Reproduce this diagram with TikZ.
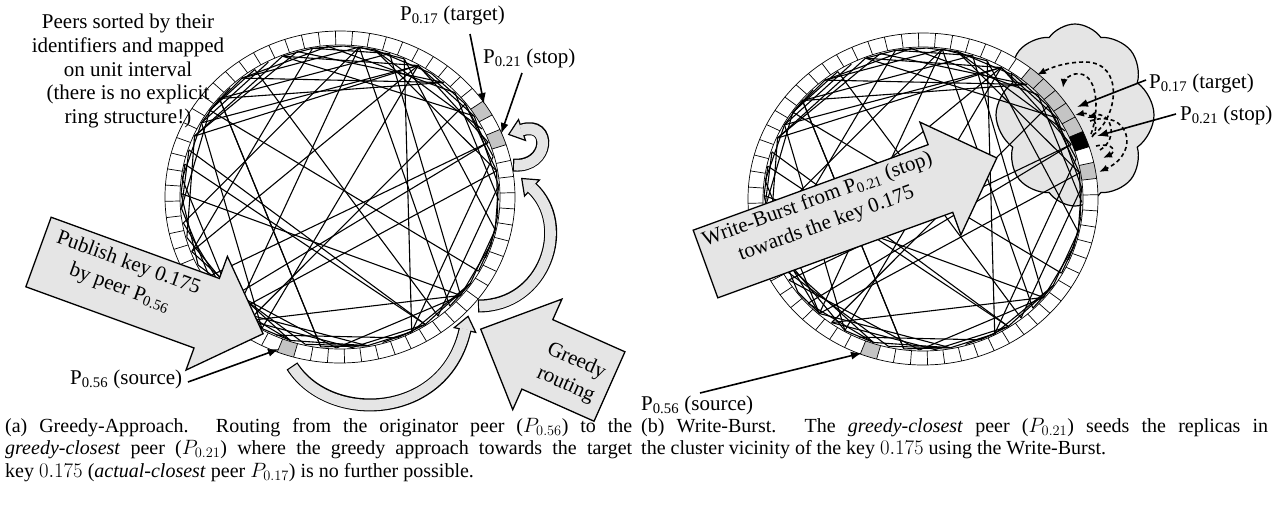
\documentclass[tikz,border=0pt]{standalone}
\usepackage{fontspec}
\setmainfont{Liberation Serif}
\usetikzlibrary{arrows.meta,calc,shapes.symbols}
\definecolor{lgray}{gray}{0.9}
\definecolor{bgray}{gray}{0.77}
\tikzset{
  chord/.style={line width=1.1pt, black},
  ringln/.style={line width=0.7pt, black},
  barrow/.style={fill=lgray, draw=black, line width=1.3pt, line join=miter},
  ptr/.style={line width=1.6pt, -{Latex[length=11pt,width=8pt]}},
  lbl/.style={font=\fontsize{21}{23.7}\selectfont, inner sep=0pt},
  arrtxt/.style={font=\fontsize{21}{26}\selectfont, inner sep=0pt, align=center},
  captxt/.style={font=\fontsize{20}{22.5}\selectfont, inner sep=0pt},
  dasharc/.style={line width=1.6pt, dash pattern=on 4pt off 3pt, -{Latex[length=9pt,width=7pt]}},
}
\newcommand{\boxfill}[2]{%
  \pgfmathsetmacro{\rba}{1.5+5.625*#1}\pgfmathsetmacro{\rbm}{\rba+2.8125}\pgfmathsetmacro{\rbb}{\rba+5.625}%
  \fill[#2] (\rba:175 and 166) -- (\rbm:175 and 166) -- (\rbb:175 and 166) -- (\rbb:160 and 152) -- (\rbm:160 and 152) -- (\rba:160 and 152) -- cycle;}
\newcommand{\chords}{%
  \pgfmathsetseed{11}%
  \foreach \i in {0,...,63}{%
    \pgfmathrandominteger{\dd}{2}{10}%
    \pgfmathsetmacro{\ca}{4.3125+5.625*\i}%
    \pgfmathsetmacro{\cb}{4.3125+5.625*(\i+\dd)}%
    \draw[chord] (\ca:159 and 151) -- (\cb:159 and 151);}%
  \foreach \i in {1,...,30}{%
    \pgfmathrandominteger{\pp}{0}{63}%
    \pgfmathrandominteger{\qq}{12}{52}%
    \pgfmathsetmacro{\ca}{4.3125+5.625*\pp}%
    \pgfmathsetmacro{\cb}{4.3125+5.625*(\pp+\qq)}%
    \draw[chord] (\ca:159 and 151) -- (\cb:159 and 151);}%
}
\newcommand{\ring}[1]{%
  \fill[white, even odd rule] (0,0) ellipse [x radius=175, y radius=166] (0,0) ellipse [x radius=160, y radius=152];
  #1
  \draw[ringln] (0,0) ellipse [x radius=175, y radius=166];
  \draw[ringln] (0,0) ellipse [x radius=160, y radius=152];
  \foreach \k in {0,...,63}{\pgfmathsetmacro{\ra}{1.5+5.625*\k}\draw[ringln] (\ra:160 and 152) -- (\ra:175 and 166);}
}
\newcommand{\blockarrow}[6]{%
  \begin{scope}[shift={#1}, rotate=#2]
    \filldraw[barrow] (0,-#4/2) -- (#3,-#4/2) -- (#3,-#5/2) -- (#3+#6,0) -- (#3,#5/2) -- (#3,#4/2) -- (0,#4/2) -- cycle;
  \end{scope}}
\newcommand{\curvarrow}[4]{%
  \draw[line width=13pt, black] #1 .. controls #2 and #3 .. #4;
  \filldraw[fill=lgray, draw=black, line width=1.2pt, line join=miter] ($#4!11pt!90:#3$) -- ($#4!-14pt!#3$) -- ($#4!11pt!-90:#3$) -- cycle;
  \draw[line width=10.6pt, lgray, shorten <=1.2pt, shorten >=-1pt] #1 .. controls #2 and #3 .. #4;
}
\begin{document}
\begin{tikzpicture}[x=1pt,y=-1pt]
\fill[white] (0,0) rectangle (1278,512);
\useasboundingbox (0,0) rectangle (1278,512);
%% ================= LEFT =================
\begin{scope}[shift={(340,197)}, yscale=-1]
  \chords
  \ring{\boxfill{3}{bgray}\boxfill{5}{bgray}\boxfill{44}{bgray}}
\end{scope}
\blockarrow{(38.5,252)}{-20}{179}{74}{121}{60}
\node[arrtxt, rotate=-20] (pubtxt) at (124,276) {Publish key 0.175\\by peer P\textsubscript{0.56}};
\blockarrow{(609.5,386.5)}{156}{79}{76}{121}{62}
\node[arrtxt, rotate=-24] (grtxt) at (571,373) {Greedy\\routing};
\curvarrow{(292,366)}{(330,425)}{(445,420)}{(465,330)}
\curvarrow{(478,306)}{(545,306)}{(572,225)}{(532,188)}
\curvarrow{(513,165)}{(550,168)}{(552,120)}{(522,130)}
\node[lbl, align=center, anchor=north] (peers) at (128,14) {Peers sorted by their\\identifiers and mapped\\on unit interval\\(there is no explicit\\ring structure!)};
\node[lbl, anchor=base west] (ltgt) at (400,20) {P\textsubscript{0.17} (target)};
\node[lbl, anchor=base west] (lstop) at (483,63) {P\textsubscript{0.21} (stop)};
\node[lbl, anchor=base west] (lsrc) at (70,384) {P\textsubscript{0.56} (source)};
\coordinate (ltgt-s) at (470,34); \coordinate (ltgt-e) at (484,104);
\coordinate (lstop-s) at (522,73); \coordinate (lstop-e) at (501,134);
\coordinate (lsrc-s) at (188,382); \coordinate (lsrc-e) at (279,349);
\draw[ptr] (ltgt-s) -- (ltgt-e);
\draw[ptr] (lstop-s) -- (lstop-e);
\draw[ptr] (lsrc-s) -- (lsrc-e);
%% ================= RIGHT =================
\node[cloud, cloud puffs=8, cloud puff arc=110, aspect=0.86, draw, fill=lgray, line width=1.2pt, minimum width=158pt, minimum height=182pt] (cloud) at (1075,115) {};
\begin{scope}[shift={(923,199)}, yscale=-1]
  \chords
  \ring{\boxfill{1}{bgray}\boxfill{4}{bgray}\boxfill{5}{bgray}\boxfill{6}{bgray}\boxfill{7}{bgray}\boxfill{8}{bgray}\boxfill{3}{black}\boxfill{44}{bgray}}
\end{scope}
\blockarrow{(705.5,264)}{20}{250}{72}{120}{60}
\node[arrtxt, rotate=20] (wbtxt) at (822,212) {Write-Burst from P\textsubscript{0.21} (stop)\\towards the key 0.175};
\draw[dasharc] (1093,135) .. controls (1118,118) and (1125,62) .. (1085,62) .. controls (1065,62) and (1050,68) .. (1037,75);
\draw[dasharc] (1091,134) .. controls (1100,110) and (1098,70) .. (1075,74) .. controls (1068,76) and (1064,80) .. (1063,88);
\draw[dasharc] (1092,137) .. controls (1102,124) and (1090,112) .. (1075,115);
\draw[dasharc] (1100,150) .. controls (1120,138) and (1110,110) .. (1087,118);
\draw[dasharc] (1090,121) .. controls (1128,108) and (1142,152) .. (1099,172);
\draw[dasharc] (1096,146) .. controls (1114,142) and (1116,152) .. (1103,158);
\node[lbl, anchor=base west] (rtgt) at (1149,88) {P\textsubscript{0.17} (target)};
\node[lbl, anchor=base west] (rstop) at (1180,120) {P\textsubscript{0.21} (stop)};
\node[lbl, anchor=base west] (rsrc) at (641,410) {P\textsubscript{0.56} (source)};
\coordinate (rtgt-s) at (1146,80); \coordinate (rtgt-e) at (1077,107);
\coordinate (rstop-s) at (1176,114); \coordinate (rstop-e) at (1097,136);
\coordinate (rsrc-s) at (700,393); \coordinate (rsrc-e) at (862,353);
\draw[ptr] (rtgt-s) -- (rtgt-e);
\draw[ptr] (rstop-s) -- (rstop-e);
\draw[ptr] (rsrc-s) -- (rsrc-e);
%% ================= CAPTIONS =================
\node[captxt, anchor=north west, text width=627pt, align=justify] (capa) at (5,418) {(a) Greedy-Approach. Routing from the originator peer ($P_{0.56}$) to the\linebreak \textit{greedy-closest} peer ($P_{0.21}$) where the greedy approach towards the target\linebreak key $0.175$ (\textit{actual-closest} peer $P_{0.17}$) is no further possible.};
\node[captxt, anchor=north west, text width=627pt, align=justify] (capb) at (641,418) {(b) Write-Burst. The \textit{greedy-closest} peer ($P_{0.21}$) seeds the replicas in\linebreak the cluster vicinity of the key $0.175$ using the Write-Burst.};
\end{tikzpicture}
\end{document}
